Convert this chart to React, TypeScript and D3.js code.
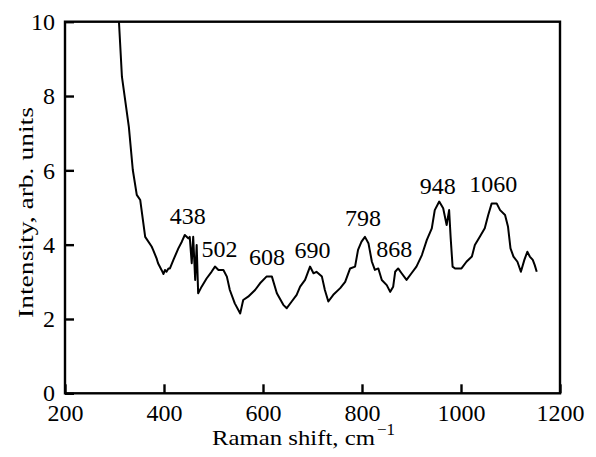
import React, { useEffect, useRef } from 'react';
import * as d3 from 'd3';

// Raman spectrum
const shift: number[] = [
  309, 315, 329, 337, 345, 352, 362, 375, 378, 385, 388, 395, 399, 402, 405, 409, 412, 419, 429, 436,
  442, 449, 452, 456, 459, 463, 466, 469, 476, 486, 496, 503, 510, 520, 527, 533,
  543, 554, 560, 570, 584, 594, 607, 618, 628, 641, 648, 658, 668, 675, 685, 695,
  702, 708, 719, 725, 732, 742, 756, 766, 776, 786, 792, 799, 806, 813, 820, 826,
  833, 840, 850, 857, 863, 867, 873, 880, 890, 900, 910, 921, 931, 941, 947, 956,
  964, 971, 976, 979, 983, 988, 1001, 1011, 1022, 1028, 1038, 1048, 1055, 1062, 1072, 1079,
  1089, 1095, 1100, 1106, 1114, 1121, 1128, 1134, 1139, 1145, 1149, 1153,
];
const intensity: number[] = [
  10.0, 8.52, 7.17, 6.01, 5.34, 5.20, 4.21, 3.95, 3.86, 3.63, 3.50, 3.32, 3.21, 3.32, 3.27, 3.36, 3.36, 3.59, 3.90, 4.08,
  4.26, 4.17, 4.21, 3.50, 4.21, 3.05, 3.99, 2.69, 2.87, 3.09, 3.27, 3.41, 3.32, 3.32, 3.14, 2.78,
  2.42, 2.15, 2.51, 2.60, 2.78, 2.96, 3.14, 3.14, 2.69, 2.38, 2.29, 2.47, 2.65, 2.87, 3.05, 3.41,
  3.23, 3.27, 3.14, 2.78, 2.47, 2.65, 2.83, 3.00, 3.36, 3.41, 3.86, 4.08, 4.21, 4.04, 3.54, 3.32,
  3.36, 3.05, 2.91, 2.73, 2.87, 3.27, 3.36, 3.23, 3.05, 3.23, 3.41, 3.72, 4.13, 4.44, 4.93, 5.16,
  4.98, 4.53, 4.93, 4.21, 3.41, 3.36, 3.36, 3.54, 3.68, 3.99, 4.21, 4.44, 4.80, 5.11, 5.11, 4.93,
  4.80, 4.48, 3.90, 3.68, 3.54, 3.27, 3.59, 3.81, 3.68, 3.59, 3.45, 3.27,
];

// peak annotations: label, anchor x (data), baseline y (data)
const peakLabels: string[] = ['438', '502', '608', '690', '798', '868', '948', '1060'];
const peakX: number[] = [448, 512, 608, 700, 802, 865, 953, 1065];
const peakY: number[] = [4.55, 3.67, 3.45, 3.64, 4.5, 3.67, 5.36, 5.41];

const xTicks: number[] = [200, 400, 600, 800, 1000, 1200];
const yTicks: number[] = [0, 2, 4, 6, 8, 10];

const FONT = 'Liberation Serif, DejaVu Serif, serif';

const App = () => {
  const svgRef = useRef<SVGSVGElement>(null);

  useEffect(() => {
    const svg = d3.select(svgRef.current);
    svg.selectAll('*').remove();

    const width = 596;
    const height = 457;
    const margin = { top: 21.7, right: 36, bottom: 63.7, left: 65 };
    const w = width - margin.left - margin.right;
    const h = height - margin.top - margin.bottom;

    const g = svg.append('g').attr('transform', `translate(${margin.left},${margin.top})`);

    const x = d3.scaleLinear().domain([200, 1200]).range([0, w]);
    const y = d3.scaleLinear().domain([0, 10]).range([h, 0]);

    // curve
    const pts: [number, number][] = shift.map((s, i) => [s, intensity[i]]);
    const line = d3.line<[number, number]>()
      .x(d => x(d[0]))
      .y(d => y(d[1]));

    g.append('path')
      .datum(pts)
      .attr('d', line)
      .attr('fill', 'none')
      .attr('stroke', '#000')
      .attr('stroke-width', 2)
      .attr('stroke-linejoin', 'round');

    // frame
    g.append('rect')
      .attr('width', w)
      .attr('height', h)
      .attr('fill', 'none')
      .attr('stroke', '#000')
      .attr('stroke-width', 2.4);

    // axes, ticks pointing inward
    const xAxis = g.append('g')
      .attr('transform', `translate(0,${h})`)
      .call(d3.axisBottom(x).tickValues(xTicks).tickFormat(d3.format('d'))
        .tickSizeInner(-9).tickSizeOuter(0).tickPadding(11));
    const yAxis = g.append('g')
      .call(d3.axisLeft(y).tickValues(yTicks).tickFormat(d3.format('d'))
        .tickSizeInner(-9).tickSizeOuter(0).tickPadding(10));

    [xAxis, yAxis].forEach(a => {
      a.attr('font-family', FONT).attr('font-size', 24);
      a.select('.domain').remove();
      a.selectAll('line').attr('stroke', '#000').attr('stroke-width', 2.4);
      a.selectAll('text').attr('fill', '#000');
    });
    yAxis.selectAll('text').attr('dy', '0.32em');

    // peak labels
    g.selectAll('.peak')
      .data(peakLabels)
      .enter()
      .append('text')
      .attr('class', 'peak')
      .attr('x', (d, i) => x(peakX[i]))
      .attr('y', (d, i) => y(peakY[i]))
      .attr('text-anchor', 'middle')
      .attr('font-family', FONT)
      .attr('font-size', 24)
      .text(d => d);

    // axis titles (the original face runs wider than Times, so stretch to fit)
    const xt = svg.append('text')
      .attr('x', 212)
      .attr('y', 445)
      .attr('font-family', FONT)
      .attr('font-size', 21);
    xt.append('tspan')
      .attr('textLength', 163)
      .attr('lengthAdjust', 'spacingAndGlyphs')
      .text('Raman shift, cm');
    xt.append('tspan').attr('dx', 2).attr('dy', -10).attr('font-size', 17).text('\u22121');

    svg.append('text')
      .attr('transform', `translate(33,${margin.top + h / 2 + 5}) rotate(-90)`)
      .attr('text-anchor', 'middle')
      .attr('font-family', FONT)
      .attr('font-size', 21)
      .attr('textLength', 211)
      .attr('lengthAdjust', 'spacingAndGlyphs')
      .text('Intensity, arb. units');
  }, []);

  return (
    <svg
      ref={svgRef}
      width={596}
      height={457}
      style={{ position: 'absolute', left: 0, top: 0, background: '#fff' }}
    />
  );
};

export default App;
